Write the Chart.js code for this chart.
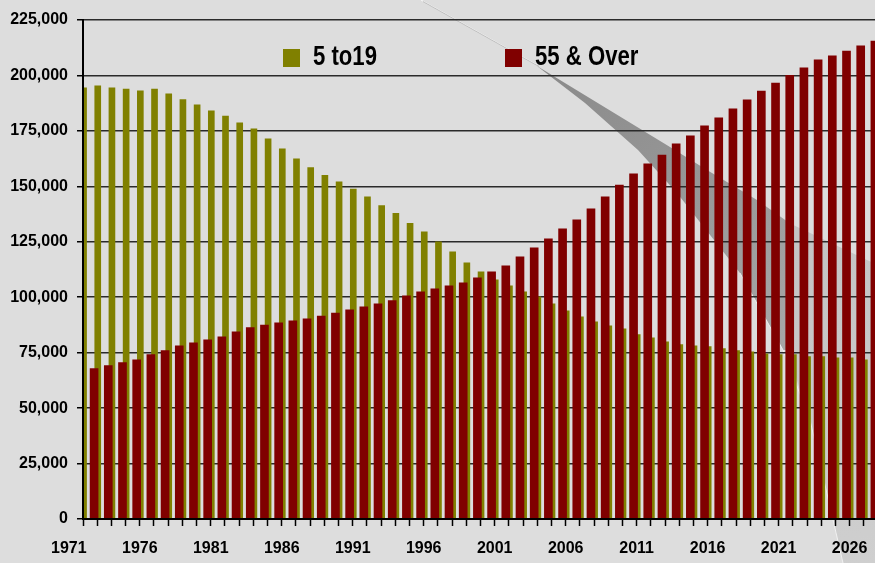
<!DOCTYPE html>
<html>
<head>
<meta charset="utf-8">
<script src="https://cdn.jsdelivr.net/npm/chart.js@4.4.1/dist/chart.umd.min.js"></script>
<style>
html,body{margin:0;padding:0;background:#dddddd;overflow:hidden;}
#wrap{width:875px;height:563px;overflow:hidden;position:relative;}
canvas{display:block;}
</style>
</head>
<body>
<div id="wrap"><canvas id="c" width="880" height="563" style="width:880px;height:563px"></canvas></div>
<script>
// ---- data ----
const years = [1971,1972,1973,1974,1975,1976,1977,1978,1979,1980,
               1981,1982,1983,1984,1985,1986,1987,1988,1989,1990,
               1991,1992,1993,1994,1995,1996,1997,1998,1999,2000,
               2001,2002,2003,2004,2005,2006,2007,2008,2009,2010,
               2011,2012,2013,2014,2015,2016,2017,2018,2019,2020,
               2021,2022,2023,2024,2025,2026];

const age5to19 = [194400,195300,194400,193900,193100,193900,191700,189100,186700,184000,
                  181700,178600,175900,171400,166900,162400,158400,155000,152000,148800,
                  145300,141300,137800,133300,129500,125000,120500,115500,111400,107800,
                  105100,102400,100200,97000,93900,91200,88900,87100,85800,83100,
                  81700,79900,78600,78100,77700,76800,75900,75400,74500,74100,
                  74100,73200,73200,72700,72700,71800];

const age55over = [67800,69200,70500,71800,74100,75900,78100,79400,80800,82100,
                   84400,86300,87400,88500,89400,90300,91500,92800,94300,95700,
                   97000,98500,100600,102400,103800,105100,106500,108700,111400,114100,
                   118200,122300,126300,130800,134900,139900,145300,150600,155600,160100,
                   164100,169200,172800,177300,180900,184900,189000,193000,196600,200000,
                   203400,207000,208800,211000,213300,215500];

const seriesNames = ['5 to19', '55 & Over'];
const seriesColors = ['#808000', '#800000'];
const yMax = 225000, yStep = 25000;
const labelEvery = 5;

// ---- style ----
const FONT = "'Liberation Sans', Arial, sans-serif";

function path(ctx, pts) {
  ctx.beginPath();
  ctx.moveTo(pts[0][0], pts[0][1]);
  for (let i = 1; i < pts.length; i++) ctx.lineTo(pts[i][0], pts[i][1]);
  ctx.closePath();
}

const bgPlugin = {
  id: 'bg',
  beforeDraw(chart) {
    const ctx = chart.ctx;
    ctx.save();
    ctx.fillStyle = '#dddddd';
    ctx.fillRect(0, 0, chart.width, chart.height);
    // decorative light beam (background artifact of the original picture)
    ctx.lineWidth = 1;
    ctx.strokeStyle = 'rgba(250,250,250,0.95)';
    ctx.beginPath(); ctx.moveTo(421, 0); ctx.lineTo(537, 65); ctx.stroke();
    ctx.strokeStyle = 'rgba(160,160,160,0.6)';
    ctx.beginPath(); ctx.moveTo(423, 1.5); ctx.lineTo(539, 66.5); ctx.stroke();
    // light lower part
    const gl = ctx.createLinearGradient(790, 240, 880, 560);
    gl.addColorStop(0, '#c4c4c4');
    gl.addColorStop(1, '#cfcfcf');
    ctx.fillStyle = gl;
    path(ctx, [[787,222],[787,350],[810,420],[843,563],[880,563],[880,266],[867,260]]);
    ctx.fill();
    // dark band
    const gd = ctx.createLinearGradient(540, 66, 790, 330);
    gd.addColorStop(0, '#8a8a8a');
    gd.addColorStop(0.5, '#969696');
    gd.addColorStop(1, '#a6a6a6');
    ctx.fillStyle = gd;
    path(ctx, [[537,66],[585,103],[638,150],[677,193],[740,273],[783,350],[788,350],[788,222],[757,200],[707,170],[670,147]]);
    ctx.fill();
    // thin highlight along the lower edge
    ctx.strokeStyle = 'rgba(245,245,245,0.85)';
    ctx.beginPath();
    ctx.moveTo(740, 273); ctx.lineTo(783, 350); ctx.lineTo(810, 420); ctx.lineTo(843, 563);
    ctx.stroke();
    ctx.restore();
  }
};

const legendPlugin = {
  id: 'insideLegend',
  afterDraw(chart) {
    const ctx = chart.ctx;
    const xs = [283, 505];
    ctx.save();
    ctx.textBaseline = 'middle';
    chart.data.datasets.forEach((ds, i) => {
      ctx.fillStyle = ds.backgroundColor;
      ctx.fillRect(xs[i], 49, 17, 18);
      ctx.save();
      ctx.translate(xs[i] + 30, 58);
      ctx.scale(0.82, 1);
      ctx.font = "bold 27px " + FONT;
      ctx.fillStyle = '#000';
      ctx.fillText(ds.label, 0, 0);
      ctx.restore();
    });
    ctx.restore();
  }
};

new Chart(document.getElementById('c'), {
  type: 'bar',
  data: {
    labels: years.map(String),
    datasets: [
      { label: seriesNames[0], data: age5to19, backgroundColor: seriesColors[0],
        xAxisID: 'xo', barThickness: 6, order: 2 },
      { label: seriesNames[1], data: age55over, backgroundColor: seriesColors[1],
        xAxisID: 'x', barThickness: 8, order: 1 }
    ]
  },
  options: {
    responsive: false,
    animation: false,
    devicePixelRatio: 1,
    layout: { padding: { top: 20, right: 2, bottom: 0, left: 0 } },
    plugins: { legend: { display: false }, tooltip: { enabled: false } },
    scales: {
      x: {
        type: 'category',
        position: 'bottom',
        offset: true,
        grid: { display: true, drawOnChartArea: false, offset: true,
                tickLength: 7, tickColor: '#000', tickWidth: 1.5 },
        border: { display: true, color: '#000', width: 2, z: 1 },
        ticks: {
          autoSkip: false, maxRotation: 0, minRotation: 0,
          padding: 13, labelOffset: -21.3, color: '#000',
          font: { family: FONT, size: 16, weight: 'bold' },
          callback: function (v, i) { return i % labelEvery === 0 ? this.getLabelForValue(v) : ''; }
        },
        afterFit: s => { s.height = 44; s.paddingLeft = 0; s.paddingRight = 0; }
      },
      xo: {
        type: 'linear',
        axis: 'x',
        position: 'bottom',
        display: false,
        offset: false,
        min: years[0] - 0.5 + 0.25,
        max: years[years.length - 1] + 0.5 + 0.25
      },
      y: {
        min: 0, max: yMax,
        ticks: {
          stepSize: yStep, padding: 9, color: '#000',
          font: { family: FONT, size: 16, weight: 'bold' },
          callback: v => Number(v).toLocaleString('en-US')
        },
        grid: { color: '#2a2a2a', lineWidth: 1.5, tickLength: 6, tickColor: '#000', tickWidth: 1.5 },
        border: { display: true, color: '#000', width: 2, z: 1 },
        afterFit: s => { s.width = 83; }
      }
    }
  },
  plugins: [bgPlugin, legendPlugin]
});
</script>
</body>
</html>
